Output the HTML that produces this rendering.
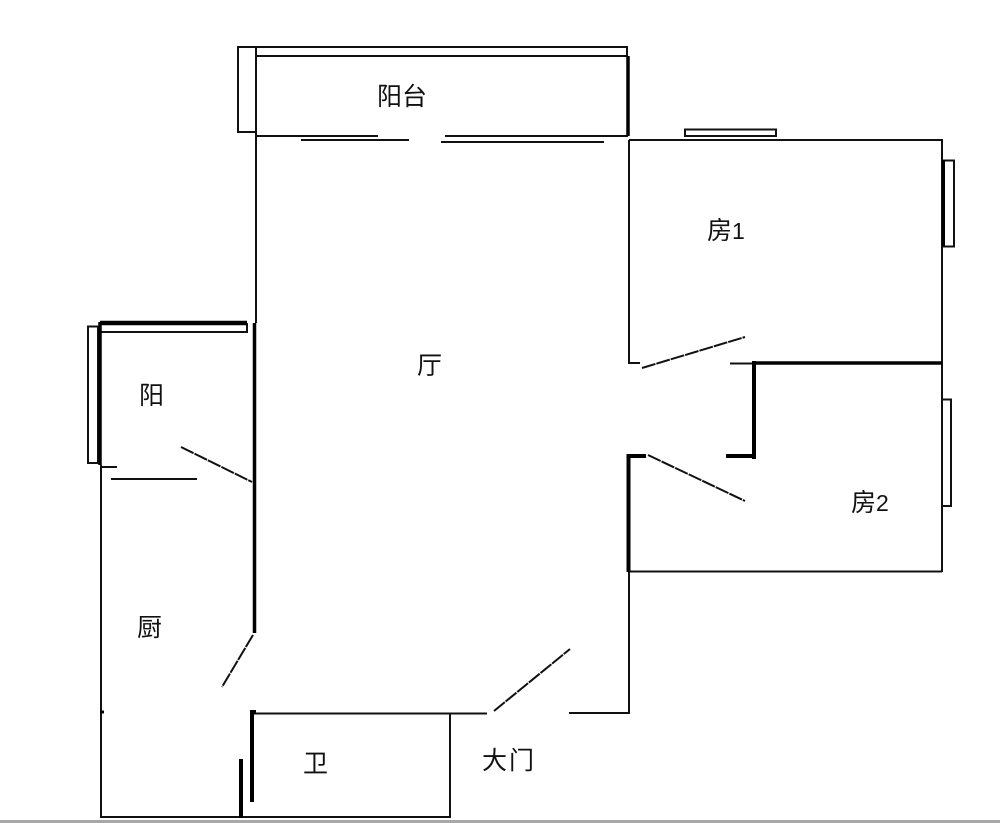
<!DOCTYPE html>
<html>
<head>
<meta charset="utf-8">
<style>
html,body{margin:0;padding:0;background:#fff;width:1000px;height:823px;overflow:hidden}
svg{display:block}
text{font-family:"Liberation Sans","Noto Sans CJK SC",sans-serif;font-size:25px;font-weight:400;fill:#111}
</style>
</head>
<body>
<svg width="1000" height="823" viewBox="0 0 1000 823" xmlns="http://www.w3.org/2000/svg">
<rect width="1000" height="823" fill="#fff"/>
<g fill="none" stroke="#111" stroke-width="2">
<path d="M256 47H627V56M256 47H238V132H256"/>
<path d="M256 47V323"/>
<path d="M256 56H628"/>
<path d="M256 136H378"/>
<path d="M301 140H409"/>
<path d="M445 136H628"/>
<path d="M441 142H604"/>
<path d="M629 140H942V572"/>
<path d="M629 140V363H640"/>
<path d="M685 129.500H776V136H685Z"/>
<path d="M943 160.500H954V246.500H943"/>
<path d="M942 399.500H951V506H942"/>
<path d="M628 571.500H942"/>
<path d="M629 571V713H569"/>
<path d="M487 713.500H252"/>
<path d="M450 713V817H101V465"/>
<path d="M730 363.500H755"/>
<path d="M88 326.500H98V463H88Z"/>
<path d="M101 332H247V323"/>
<path d="M100 467H117"/>
<path d="M111 479H197"/>
<path d="M642 368L745 337" stroke-dasharray="14 1"/>
<path d="M648 455L745 501" stroke-dasharray="14 1"/>
<path d="M181 447L252 482" stroke-dasharray="14 1"/>
<path d="M253 635L222 687" stroke-dasharray="14 1"/>
<path d="M494 711L570 649" stroke-dasharray="14 1"/>
</g>
<g fill="none" stroke="#000">
<path d="M628 56V136" stroke-width="3.500"/>
<path d="M100 323H247" stroke-width="4.500"/>
<path d="M100 322V465" stroke-width="3.500"/>
<path d="M254.500 323V633" stroke-width="3.500"/>
<path d="M755 363H942" stroke-width="3.500"/>
<path d="M754 361V459" stroke-width="4"/>
<path d="M726 456H755" stroke-width="4"/>
<path d="M628.500 572V454M626.500 456H646" stroke-width="4"/>
<path d="M252 710V802M250 712H256" stroke-width="4"/>
<path d="M241 759V818" stroke-width="4"/>
<path d="M943.500 160V246" stroke-width="3"/>
<path d="M100 712H104" stroke-width="3"/>
</g>
<text x="377" y="105">阳台</text>
<text x="417" y="374">厅</text>
<text x="707" y="239">房<tspan font-size="23">1</tspan></text>
<text x="139" y="404">阳</text>
<text x="851" y="511">房<tspan font-size="23">2</tspan></text>
<text x="137" y="636">厨</text>
<text x="303" y="772">卫</text>
<text x="482" y="769" textLength="52">大门</text>
<rect x="0" y="820" width="1000" height="3" fill="#a8a8a8"/>
</svg>
</body>
</html>
